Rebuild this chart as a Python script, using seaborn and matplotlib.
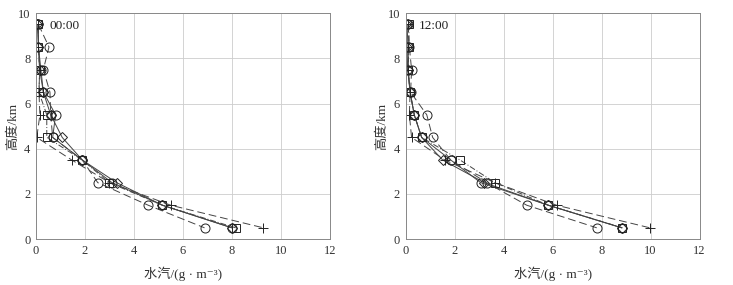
import pandas as pd
import seaborn as sns
import matplotlib.pyplot as plt

sns.set_style("white")
plt.rcParams['font.family'] = ['Liberation Serif', 'Noto Sans CJK SC', 'DejaVu Sans']

# heights (km)
heights = [9.5, 8.5, 7.5, 6.5, 5.5, 4.5, 3.5, 2.5, 1.5, 0.5]

# 00:00 water vapour (g/m3)
am_diamond = [0.05, 0.10, 0.15, 0.30, 0.60, 1.07, 1.89, 3.29, 5.16, 7.99]
am_circle = [0.10, 0.10, 0.20, 0.30, 0.80, 0.68, 1.89, 3.10, 5.16, 8.00]
am_square = [0.10, 0.10, 0.15, 0.12, 0.44, 0.44, 1.89, 2.99, 5.16, 8.15]
am_circle2 = [0.10, 0.53, 0.30, 0.57, 0.60, 0.68, 1.89, 2.52, 4.58, 6.88]
am_plus = [0.10, 0.10, 0.15, 0.12, 0.16, 0.03, 1.46, 3.00, 5.50, 9.28]

# 12:00
pm_diamond = [0.00, 0.05, 0.08, 0.18, 0.35, 0.65, 1.51, 3.21, 5.82, 8.82]
pm_circle = [0.05, 0.10, 0.10, 0.18, 0.35, 0.65, 1.84, 3.06, 5.82, 8.82]
pm_square = [0.13, 0.13, 0.10, 0.18, 0.35, 0.65, 2.22, 3.64, 5.82, 8.85]
pm_circle2 = [0.10, 0.15, 0.24, 0.20, 0.86, 1.10, 1.84, 3.30, 4.94, 7.80]
pm_plus = [0.10, 0.10, 0.10, 0.18, 0.15, 0.24, 1.60, 3.64, 6.16, 9.97]

styles = [('D', '-', 5), ('o', '-', 6.5), ('s', (0, (6, 2, 1, 2)), 5.5),
          ('o', (0, (8, 4)), 6.5), ('+', (0, (8, 4)), 7)]

panels = [('00:00', [am_diamond, am_circle, am_square, am_circle2, am_plus]),
          ('12:00', [pm_diamond, pm_circle, pm_square, pm_circle2, pm_plus])]

fig = plt.figure(figsize=(7.33, 2.85), dpi=100)
lefts = [36 / 733, 405.7 / 733]

for (label, series), left in zip(panels, lefts):
    ax = fig.add_axes([left, 0.161, 0.401, 0.793])
    for vals, (mk, ls, ms) in zip(series, styles):
        df = pd.DataFrame({'x': vals, 'y': heights})
        sns.lineplot(data=df, x='x', y='y', sort=False, estimator=None, ax=ax,
                     color='#444444', linewidth=0.7, linestyle=ls,
                     marker=mk, markersize=ms, markerfacecolor='none',
                     markeredgecolor='#222222', markeredgewidth=0.7)
    ax.set_xlim(0, 12)
    ax.set_ylim(0, 10)
    ax.set_xticks(range(0, 13, 2))
    ax.set_yticks(range(0, 11, 2))
    ax.grid(True, color='#cccccc', linewidth=0.6)
    for sp in ax.spines.values():
        sp.set_color('#888888')
        sp.set_linewidth(0.7)
    ax.tick_params(labelsize=9, colors='#333333', length=0, pad=4)
    ax.set_xlabel('水汽/(g · m⁻³)', fontsize=9.5, color='#333333')
    ax.set_ylabel('高度/km', fontsize=9.5, color='#333333')
    ax.xaxis.set_label_coords(0.5, -0.12)
    ax.yaxis.set_label_coords(-0.058, 0.5)
    ax.text(0.55, 9.45, label, fontsize=9.5, color='#222222', va='center')

fig.savefig('out.png', dpi=100)
